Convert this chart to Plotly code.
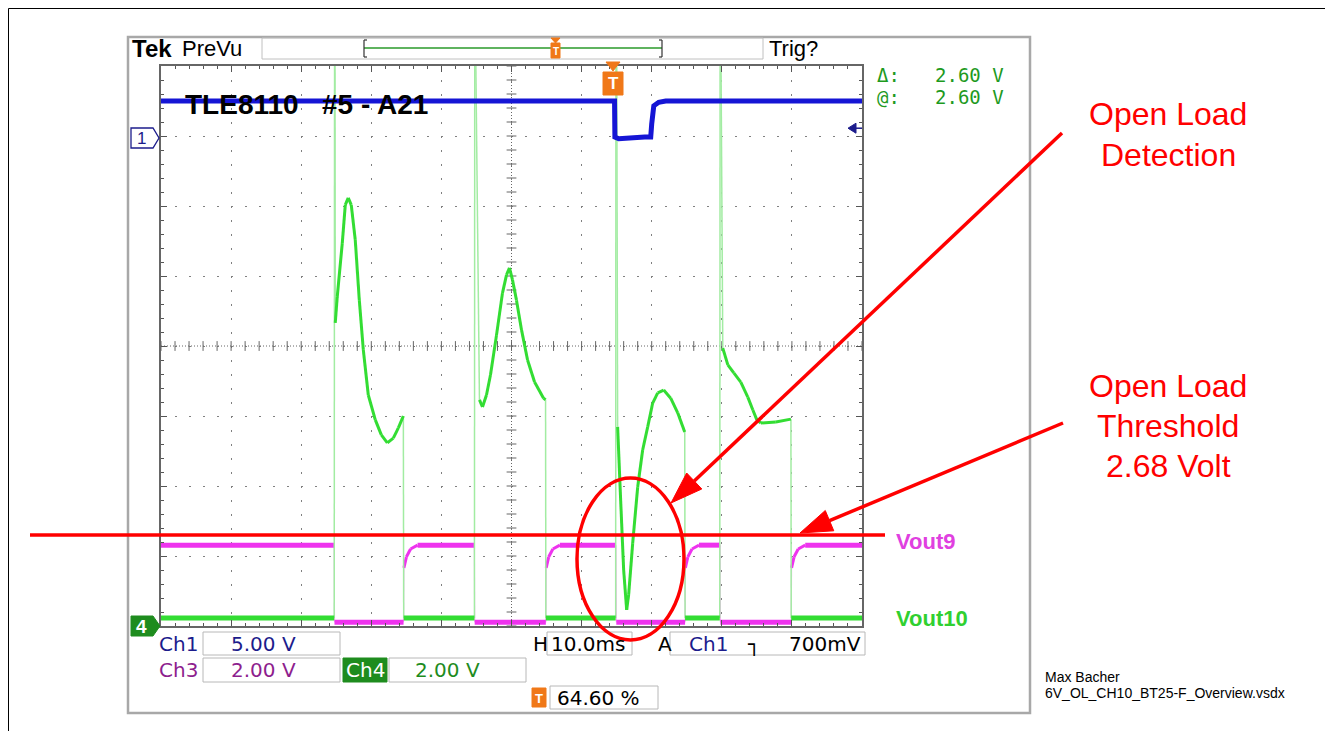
import numpy as np
import plotly.graph_objects as go

# browser body margin is 8 px: the figure is placed at (8, 8) in the window
OFF = 8
W, H = 1333 - OFF, 731 - OFF

# ---------------- data ----------------
# time axis: 0..100 ms (10 ms/div), trigger at 64.6 %
# Ch4 (Vout10, green) 2 V/div, ground at bottom graticule
ch4_t = [0, 24.71, 24.76, 24.81, 24.86, 25.14, 25.86, 26.29, 26.71, 27.14, 27.71, 28.29, 28.86, 29.57,
         30.57, 31.43, 32.29, 33.14, 33.86, 34.57, 34.62, 44.71, 44.76, 44.86, 45.43, 45.86, 46.43, 47.0,
         47.86, 48.71, 49.29, 49.71, 50.14, 50.71, 51.43, 52.29, 53.29, 54.57, 54.86, 54.9, 64.86, 64.9,
         65.0, 65.14, 65.57, 66.0, 66.43, 66.71, 67.29, 68.0, 68.71, 69.43, 70.14, 70.86, 71.71, 72.71,
         73.71, 74.71, 74.76, 79.71, 79.76, 79.86, 80.14, 80.86, 81.71, 82.71, 83.71, 84.43, 85.0, 85.57,
         87.71, 89.86, 89.9, 100]
ch4_v = [0.23, 0.23, 17, 17, 8.66, 9.4, 10.94, 12.03, 12.23, 12.03, 11.03, 9.31, 7.89, 6.6,
         5.89, 5.46, 5.23, 5.37, 5.66, 6.0, 0.23, 0.23, 17, 17, 6.46, 6.26, 6.6, 7.17,
         8.31, 9.51, 10.03, 10.23, 9.89, 9.31, 8.46, 7.6, 6.97, 6.51, 6.46, 0.23, 0.23, 17,
         17, 5.69, 3.6, 1.6, 0.46, 0.89, 2.37, 3.97, 5.03, 5.69, 6.37, 6.66, 6.74, 6.51,
         6.09, 5.54, 0.23, 0.23, 17, 17, 7.94, 7.46, 7.23, 6.97, 6.54, 6.17, 5.89, 5.8,
         5.83, 5.91, 0.23, 0.23]

# Ch3 (Vout9, magenta) 2 V/div, ground at bottom graticule
ch3_t = [0, 24.7, 24.75, 34.6, 34.65, 35.0, 35.6, 36.6, 44.7, 44.75, 54.9, 54.95, 55.3, 55.9, 56.9,
         64.9, 64.95, 74.76, 74.8, 75.15, 75.75, 76.75, 79.76, 79.8, 89.9, 89.95, 90.3, 90.9, 91.9, 100]
ch3_v = [2.31, 2.31, 0.11, 0.11, 1.66, 1.97, 2.2, 2.31, 2.31, 0.11, 0.11, 1.66, 1.97, 2.2, 2.31,
         2.31, 0.11, 0.11, 1.66, 1.97, 2.2, 2.31, 2.31, 0.11, 0.11, 1.66, 1.97, 2.2, 2.31, 2.31]

# Ch1 (blue) 5 V/div
ch1_t = [0, 64.7, 64.75, 65.3, 69.0, 69.86, 70.0, 70.3, 71.0, 72.0, 100]
ch1_v = [2.64, 2.64, 0.07, -0.05, 0.07, 0.07, 1.0, 2.3, 2.55, 2.64, 2.64]

threshold_v = 2.6          # red "Open Load Threshold" line (Ch3/Ch4 scale)
trig_level_v = 0.7         # Ch1 trigger level

readout_labels = ["\u0394:", "@:"]
readout_values = ["2.60 V", "2.60 V"]
title_text = "TLE8110   #5 - A21"

# ---------------- geometry helpers (window pixel coordinates) ----------------
GX0, GX1, GY0, GY1 = 161, 862, 66, 626
CH1_GND_PX = 138


def px(x):
    return (x - OFF) / W


def py(y):
    return 1 - (y - OFF) / H


ch1_bottom = -(GY1 - CH1_GND_PX) / 70.0 * 5
ch1_top = (CH1_GND_PX - GY0) / 70.0 * 5

NAVY = "#1c1c8c"
PURPLE = "#8e1e8e"
DKGREEN = "#1e8c1e"
ORANGE = "#f07818"
RED = "#ff0000"
GRAY = "#a8a8a8"
SF = "DejaVu Sans"


def split(t, v, slope):
    out = {"edge": ([], []), "flat": ([], []), "curve": ([], [])}
    for i in range(len(t) - 1):
        dt = t[i + 1] - t[i]
        dv = v[i + 1] - v[i]
        if abs(dv) > 0.8 and abs(dv) > slope * dt:
            k = "edge"
        elif dv == 0:
            k = "flat"
        else:
            k = "curve"
        out[k][0].extend([t[i], t[i + 1], None])
        out[k][1].extend([v[i], v[i + 1], None])
    return out


fig = go.Figure()

# centre-cross tick marks (graticule decoration)
cx = np.arange(0, 100.01, 2)
cy = np.arange(0, 16.01, 0.4)
fig.add_trace(go.Scatter(x=cx, y=[8] * len(cx), mode="markers", hoverinfo="skip",
                         marker=dict(symbol="line-ns", size=7, line=dict(width=1, color="#666"))))
fig.add_trace(go.Scatter(x=[50] * len(cy), y=cy, mode="markers", hoverinfo="skip",
                         marker=dict(symbol="line-ew", size=7, line=dict(width=1, color="#666"))))

# Ch3 magenta
s3 = split(ch3_t, ch3_v, 10)
fig.add_trace(go.Scatter(x=s3["edge"][0], y=s3["edge"][1], mode="lines",
                         line=dict(color="#f4b0f4", width=1.2), hoverinfo="skip"))
fig.add_trace(go.Scatter(x=s3["flat"][0], y=s3["flat"][1], mode="lines",
                         line=dict(color="#ee33ee", width=5), hoverinfo="skip"))
fig.add_trace(go.Scatter(x=s3["curve"][0], y=s3["curve"][1], mode="lines",
                         line=dict(color="#ee33ee", width=3), hoverinfo="skip"))

# Ch4 green
s4 = split(ch4_t, ch4_v, 12)
fig.add_trace(go.Scatter(x=s4["edge"][0], y=s4["edge"][1], mode="lines",
                         line=dict(color="#a2eca2", width=1.5), hoverinfo="skip"))
fig.add_trace(go.Scatter(x=s4["flat"][0], y=s4["flat"][1], mode="lines",
                         line=dict(color="#33dd33", width=5), hoverinfo="skip"))
fig.add_trace(go.Scatter(x=s4["curve"][0], y=s4["curve"][1], mode="lines",
                         line=dict(color="#33dd33", width=3), hoverinfo="skip"))

# Ch1 blue
fig.add_trace(go.Scatter(x=ch1_t, y=ch1_v, yaxis="y2", mode="lines",
                         line=dict(color="#1515d5", width=5), hoverinfo="skip"))

axis_common = dict(showgrid=True, gridcolor="#808080", gridwidth=1, griddash="2px,12px",
                   ticks="inside", ticklen=6, tickcolor="#555", showline=True, linecolor="#666",
                   linewidth=1.5, mirror="ticks", showticklabels=False, zeroline=False,
                   fixedrange=True)

fig.update_layout(
    width=W, height=H, margin=dict(l=0, r=0, t=0, b=0), autosize=False,
    paper_bgcolor="white", plot_bgcolor="white", showlegend=False,
    xaxis=dict(domain=[px(GX0), px(GX1)], range=[0, 100], dtick=10,
               minor=dict(dtick=2, ticks="inside", ticklen=3, tickcolor="#555"), **axis_common),
    yaxis=dict(domain=[py(GY1), py(GY0)], range=[0, 16], dtick=2,
               minor=dict(dtick=0.4, ticks="inside", ticklen=3, tickcolor="#555"), **axis_common),
    yaxis2=dict(overlaying="y", range=[ch1_bottom, ch1_top], visible=False, fixedrange=True),
)

shapes = []
ann = []


def line(x0, y0, x1, y1, color, width, dash=None):
    d = dict(type="line", xref="paper", yref="paper", x0=px(x0), y0=py(y0), x1=px(x1), y1=py(y1),
             line=dict(color=color, width=width), layer="above")
    if dash:
        d["line"]["dash"] = dash
    shapes.append(d)


def rect(x0, y0, x1, y1, color, width=1, fill=None):
    shapes.append(dict(type="rect", xref="paper", yref="paper", x0=px(x0), y0=py(y0), x1=px(x1), y1=py(y1),
                       line=dict(color=color, width=width), fillcolor=fill or "rgba(0,0,0,0)", layer="above"))


def poly(pts, color, fill=None, width=1):
    path = "M " + " L ".join(f"{px(x)},{py(y)}" for x, y in pts) + " Z"
    shapes.append(dict(type="path", xref="paper", yref="paper", path=path,
                       line=dict(color=color, width=width), fillcolor=fill or "rgba(0,0,0,0)", layer="above"))


def text(x, y, s, size, color="black", anchor="left", family="Liberation Sans", bold=False):
    if bold:
        s = f"<b>{s}</b>"
    ann.append(dict(xref="paper", yref="paper", x=px(x), y=py(y), text=s, showarrow=False,
                    xanchor=anchor, yanchor="middle", font=dict(size=size, color=color, family=family)))


# outer page frame
line(8.5, 8.5, 1333, 8.5, "black", 1)
line(8.5, 8.5, 8.5, 731, "black", 1)

# scope frame
rect(128, 37, 1030, 713, GRAY, 2.5)

# centre cross dotted lines
shapes.append(dict(type="line", xref="x", yref="y domain", x0=50, x1=50, y0=0, y1=1,
                   line=dict(color="#666", width=1, dash="1px,2px"), layer="below"))
shapes.append(dict(type="line", xref="x domain", yref="y", x0=0, x1=1, y0=8, y1=8,
                   line=dict(color="#666", width=1, dash="1px,2px"), layer="below"))

# top bar
text(130, 48, "Tek", 24, bold=True)
text(180, 48, "PreVu", 22)
rect(262, 38, 763, 59, "#c0c0c0", 1)
text(767, 48, "Trig?", 22)
line(364, 48, 662, 48, "#2a9a2a", 1.5)
line(364, 40, 364, 57, "#333", 1.2)
line(364, 40, 367, 40, "#333", 1.2)
line(364, 57, 367, 57, "#333", 1.2)
line(662, 40, 662, 57, "#333", 1.2)
line(659, 40, 662, 40, "#333", 1.2)
line(659, 57, 662, 57, "#333", 1.2)
poly([(551, 38), (560, 38), (555.5, 43)], ORANGE, ORANGE)
rect(551, 43, 560, 58, ORANGE, 1, ORANGE)
text(555.5, 51, "T", 10, "white", "center", bold=True)

# trigger position marker on graticule
poly([(606, 62), (620, 62), (613, 71)], ORANGE, ORANGE)
rect(603, 72, 623, 95, ORANGE, 1, ORANGE)
text(613, 84, "T", 17, "white", "center", bold=True)

# channel markers
poly([(131, 128), (153, 128), (159, 138), (153, 148), (131, 148)], NAVY, "white", 1.3)
text(141, 138, "1", 17, NAVY, "center")
poly([(131, 616), (153, 616), (160, 626), (153, 636), (131, 636)], DKGREEN, DKGREEN, 1)
text(141, 626, "4", 19, "white", "center", bold=True)

# trigger level arrow (Ch1)
trig_px = CH1_GND_PX - trig_level_v / 5 * 70
poly([(848, trig_px), (856, trig_px - 5), (856, trig_px + 5)], NAVY, NAVY)
line(855, trig_px, 862, trig_px, NAVY, 1.5)

# title on screen
text(183, 105, title_text, 28, "black", bold=True)

# readouts
for i, (lab, val) in enumerate(zip(readout_labels, readout_values)):
    yy = 75 + i * 22
    text(875, yy, lab, 19, "#1e9a1e", family="DejaVu Sans Mono")
    text(1006, yy, val, 19, "#1e9a1e", "right", family="DejaVu Sans Mono")

# bottom status area
R1, R2, R3 = 643.5, 670, 697.5
text(157, R1, "Ch1", 20, NAVY, family=SF)
rect(203, 632, 340, 655, "#b8b8b8", 1)
text(263, R1, "5.00 V", 20, NAVY, "center", family=SF)
text(531, R1, "H", 20, family=SF)
rect(547, 632, 632, 655, "#b8b8b8", 1)
text(549, R1, "10.0ms", 20, family=SF)
text(656, R1, "A", 20, family=SF)
rect(670, 632, 865, 655, "#b8b8b8", 1)
text(687, R1, "Ch1", 20, NAVY, family=SF)
text(745, R1, "\u2510", 20, "black", family="DejaVu Sans Mono")
text(863, R1, "700mV", 20, "black", "right", family=SF)

text(157, R2, "Ch3", 20, PURPLE, family=SF)
rect(203, 658, 340, 682, "#b8b8b8", 1)
text(263, R2, "2.00 V", 20, PURPLE, "center", family=SF)
rect(343, 658, 387, 682, DKGREEN, 1, DKGREEN)
text(365, R2, "Ch4", 20, "white", "center", family=SF)
rect(389, 658, 526, 682, "#b8b8b8", 1)
text(447, R2, "2.00 V", 20, DKGREEN, "center", family=SF)

rect(532, 688, 546, 707, ORANGE, 1, ORANGE)
text(539, 698, "T", 13, "white", "center", bold=True)
rect(550, 686, 658, 709, "#b8b8b8", 1)
text(555, R3, "64.60 %", 20, family=SF)

# channel labels
text(894, 541, "Vout9", 22, "#e040e0", bold=True)
text(894, 618, "Vout10", 22, "#30d030", bold=True)

# red annotations
thr_px = GY1 - threshold_v / 2 * 70
line(30, thr_px, 885, thr_px, RED, 3.5)
shapes.append(dict(type="circle", xref="paper", yref="paper", x0=px(577), x1=px(684), y0=py(478), y1=py(640),
                   line=dict(color=RED, width=3.5), layer="above"))


def arrow(x0, y0, x1, y1, head=32, half=11):
    d = np.array([x1 - x0, y1 - y0], float)
    u = d / np.hypot(*d)
    n = np.array([-u[1], u[0]])
    base = np.array([x1, y1]) - u * head
    line(x0, y0, base[0], base[1], RED, 3.5)
    c1 = base + n * half
    c2 = base - n * half
    poly([(x1, y1), (c1[0], c1[1]), (c2[0], c2[1])], RED, RED)


arrow(1062, 133, 671, 503)
arrow(1063, 423, 800, 533)

for yy, s in zip([114, 155], ["Open Load", "Detection"]):
    text(1168, yy, s, 32, RED, "center")
for yy, s in zip([386, 426, 466], ["Open Load", "Threshold", "2.68 Volt"]):
    text(1168, yy, s, 32, RED, "center")

# footnote
text(1043, 677, "Max Bacher", 14)
text(1043, 693, "6V_OL_CH10_BT25-F_Overview.vsdx", 14)

fig.update_layout(shapes=shapes, annotations=ann)
fig.write_html("out.html")
